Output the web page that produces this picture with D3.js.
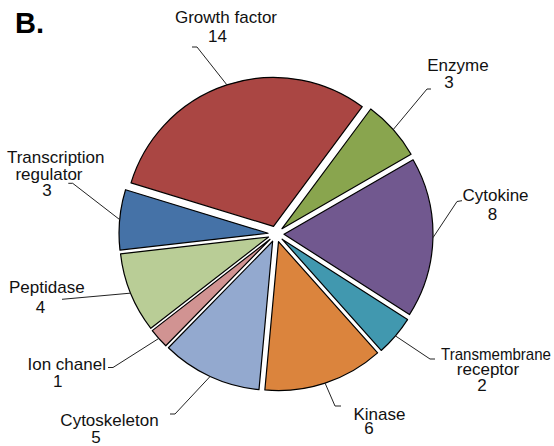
<!DOCTYPE html>
<html>
<head>
<meta charset="utf-8">
<script src="https://cdn.jsdelivr.net/npm/d3@7"></script>
<style>
  body { margin: 0; background: #fff; }
  text { font-family: "Liberation Sans", Arial, sans-serif; fill: #111; }
</style>
</head>
<body>
<script>
// chart values
const categories = ["Growth factor", "Enzyme", "Cytokine", "Transmembrane\nreceptor", "Kinase",
    "Cytoskeleton", "Ion chanel", "Peptidase", "Transcription\nregulator"];
const counts = [14, 3, 8, 2, 6, 5, 1, 4, 3];
const colors = ["#AA4643", "#89A54E", "#71588F", "#4198AF", "#DB843D",
    "#93A9CF", "#D19392", "#B9CD96", "#4572A7"];

// label placement (hand moved in the original): centre x + baseline of each line,
// then the leader elbow and end point
const labelLayout = [
    {lines: [[226, 22.7], [217.5, 41.7]], leader: [[197, 47], [192, 47]]},
    {lines: [[458, 70.7], [449, 87.8]], leader: [[427, 89], [431, 89]]},
    {lines: [[495.5, 200.7], [492.5, 220]], leader: [[457, 201.5], [462, 200.7]]},
    {lines: [[496, 360], [488, 375], [482, 391]], leader: [[430, 359], [435, 359]]},
    {lines: [[379.5, 420], [369, 434]], leader: [[335, 406], [341, 406]]},
    {lines: [[109.5, 425.7], [96, 443]], leader: [[175, 414], [170, 414]]},
    {lines: [[66.7, 370], [57.7, 386.7]], leader: [[113, 367.5], [108, 367.5]]},
    {lines: [[46.8, 292.7], [40.5, 313]], leader: [[62, 299.3], [62, 299.3]]},
    {lines: [[55.7, 163.3], [49, 179.5], [47, 196]], leader: [[72.7, 183.3], [68.3, 183.3]]}
];

const width = 554,
    height = 446,
    cx = 276,
    cy = 234,
    radius = 149,
    explode = 8,
    start = -73 * Math.PI / 180;

const data = categories.map((c, i) => ({name: c, value: counts[i], color: colors[i], layout: labelLayout[i]}));

const svg = d3.select('body').append('svg')
    .attr('width', width)
    .attr('height', height);

const pie = d3.pie()
    .sort(null)
    .value(d => d.value)
    .startAngle(start)
    .endAngle(start + 2 * Math.PI);

const arc = d3.arc()
    .innerRadius(0)
    .outerRadius(radius);

const midAngle = d => (d.startAngle + d.endAngle) / 2;

const arcs = pie(data);

// slices, each pulled out along its bisector
svg.append('g')
    .attr('transform', `translate(${cx},${cy})`)
  .selectAll('path')
  .data(arcs)
  .join('path')
    .attr('transform', d => {
        const a = midAngle(d);
        return `translate(${Math.sin(a) * explode},${-Math.cos(a) * explode})`;
    })
    .attr('d', arc)
    .style('fill', d => d.data.color)
    .style('stroke', '#000')
    .style('stroke-width', 1.2)
    .style('stroke-linejoin', 'round');

// leader lines
const line = d3.line();
svg.append('g')
  .selectAll('path')
  .data(arcs)
  .join('path')
    .attr('d', d => {
        const a = midAngle(d), r = radius + explode;
        const p0 = [cx + Math.sin(a) * r, cy - Math.cos(a) * r];
        return line([p0].concat(d.data.layout.leader));
    })
    .style('fill', 'none')
    .style('stroke', '#222')
    .style('stroke-width', 1);

// labels: category name (maybe 2 lines) + count
const labels = svg.append('g')
  .selectAll('text')
  .data(arcs)
  .join('text')
    .style('font-size', '17px')
    .attr('text-anchor', 'middle');

labels.each(function(d) {
    const parts = d.data.name.split('\n').concat([String(d.data.value)]);
    d3.select(this).selectAll('tspan')
      .data(parts)
      .join('tspan')
        .attr('x', (_, i) => d.data.layout.lines[i][0])
        .attr('y', (_, i) => d.data.layout.lines[i][1])
        .text(t => t)
        .each(function(_, i) {
            // squeeze a line that would run off the right edge
            const x = d.data.layout.lines[i][0],
                w = this.getComputedTextLength(),
                room = 2 * (width - 3 - x);
            if (w > room) {
                d3.select(this)
                    .attr('textLength', room)
                    .attr('lengthAdjust', 'spacingAndGlyphs');
            }
        });
});

// panel letter
svg.append('text')
    .attr('x', 15)
    .attr('y', 33.3)
    .style('font-size', '29px')
    .style('font-weight', 'bold')
    .style('fill', '#000')
    .text('B.');
</script>
</body>
</html>
